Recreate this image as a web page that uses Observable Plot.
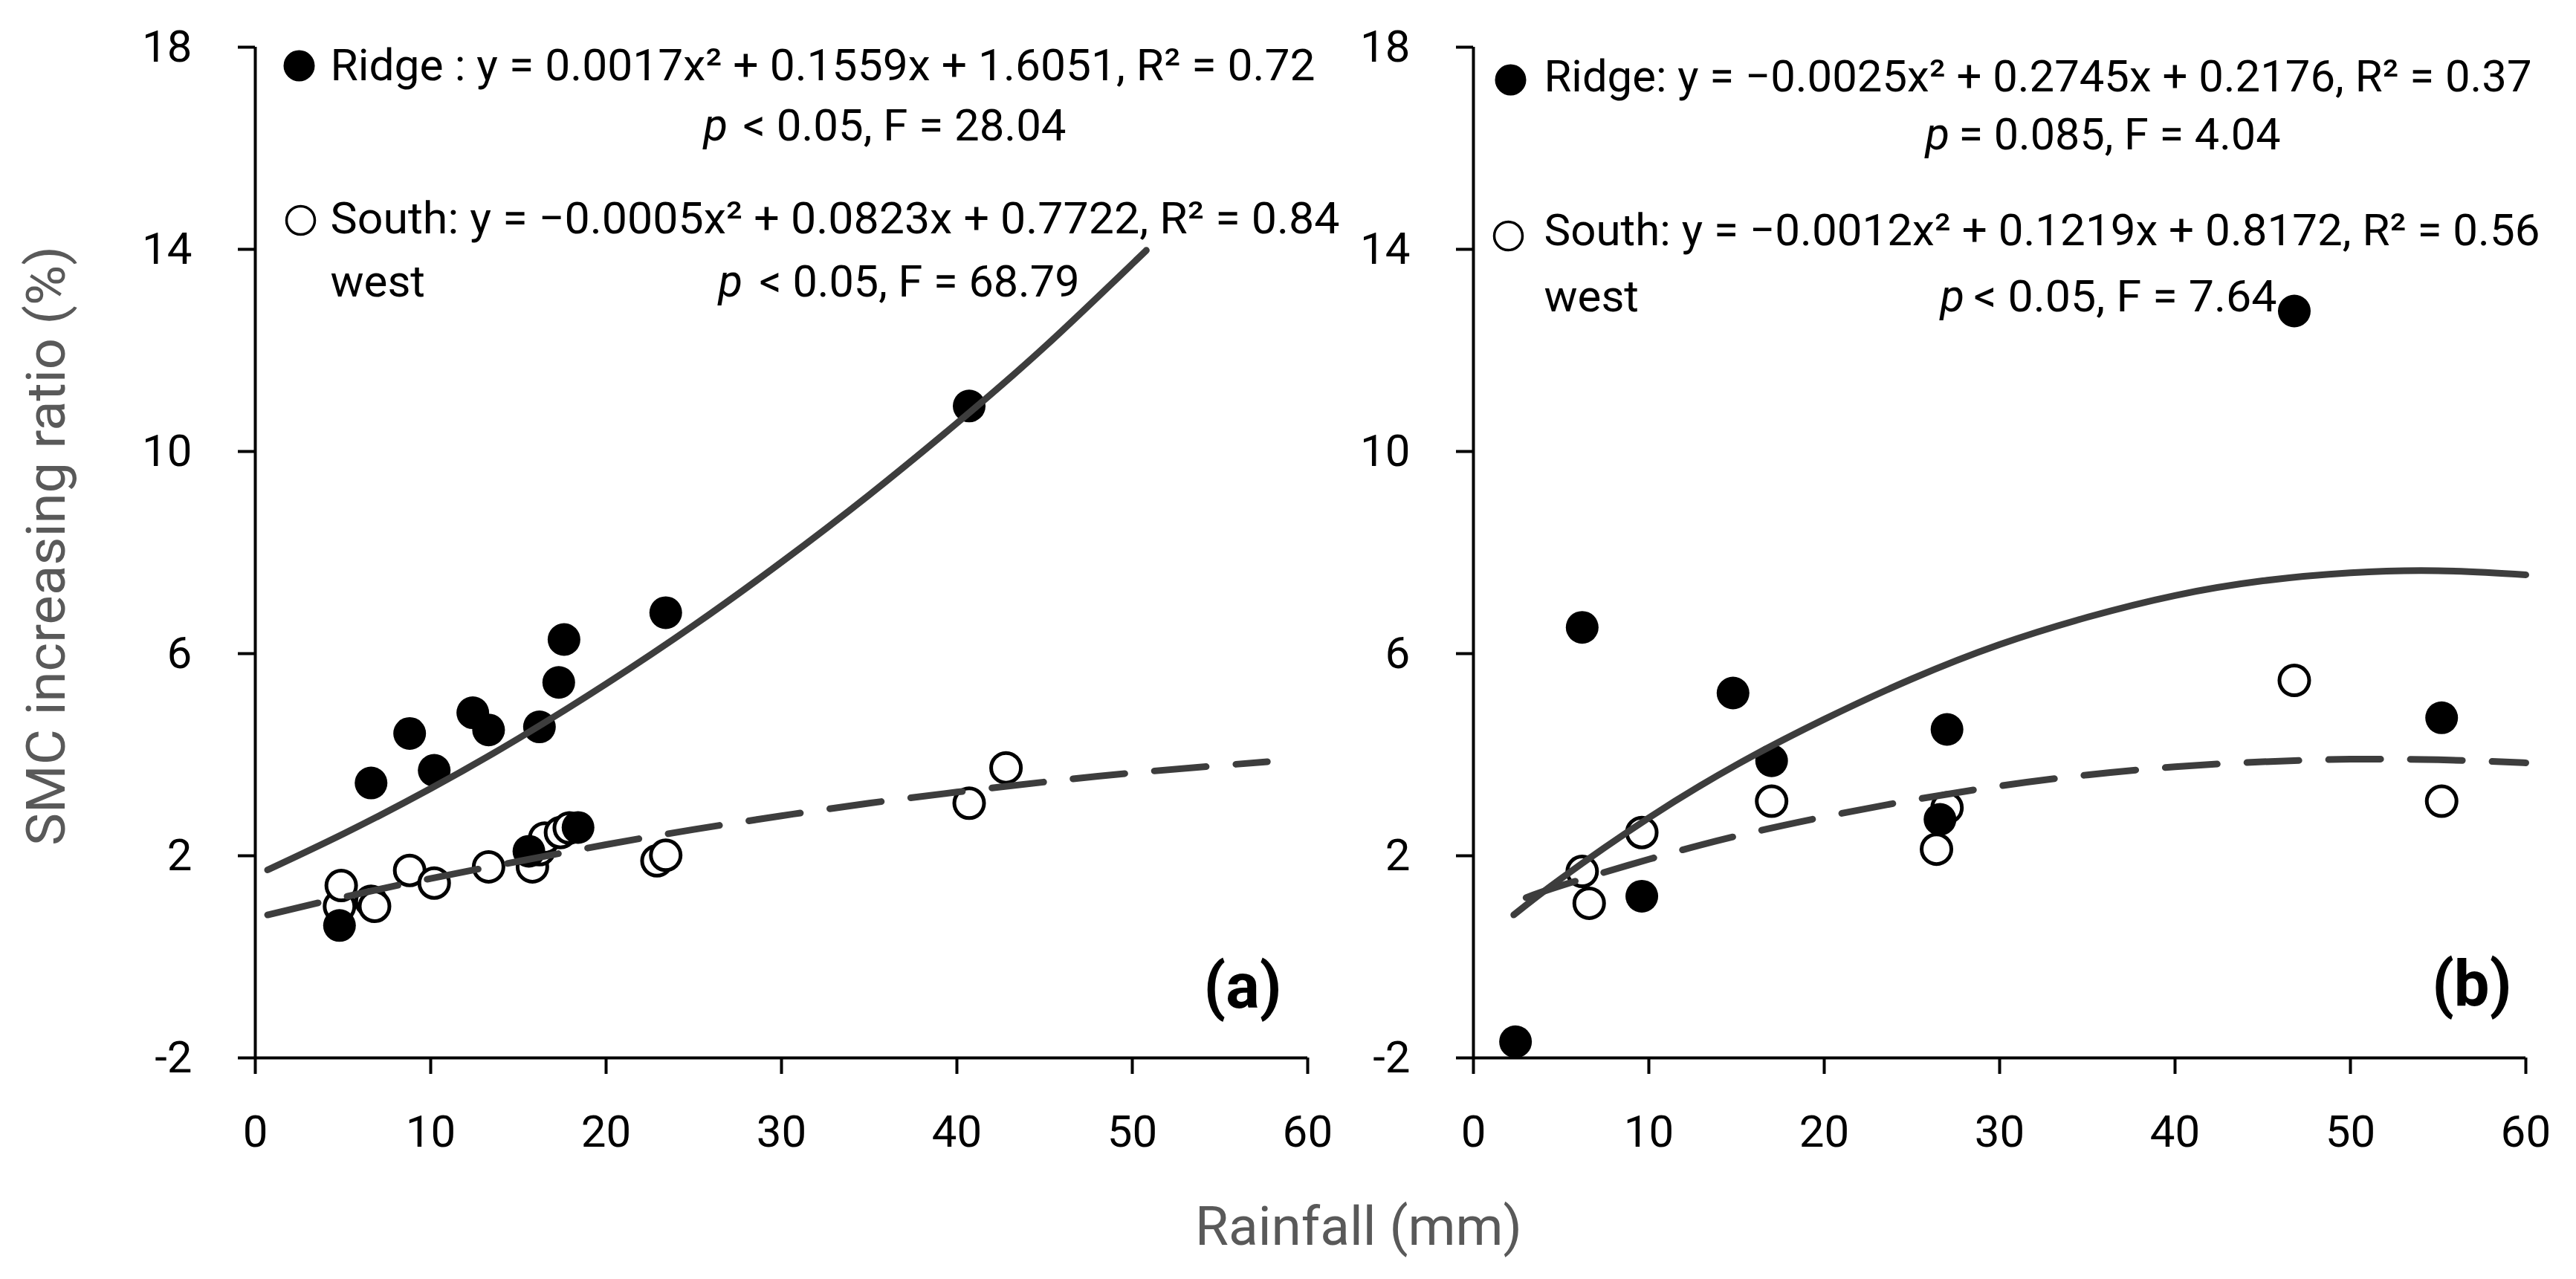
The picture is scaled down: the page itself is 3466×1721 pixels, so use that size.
<!DOCTYPE html>
<html>
<head>
<meta charset="utf-8">
<script src="https://cdn.jsdelivr.net/npm/d3@7"></script>
<script src="https://cdn.jsdelivr.net/npm/@observablehq/plot@0.6"></script>
<style>
  html, body { margin: 0; padding: 0; background: #fff; }
  #fig { position: relative; width: 3466px; height: 1721px; overflow: hidden; background: #fff; }
  #chartA, #chartB { position: absolute; top: 0; }
  #chartA { left: 0; }
  #chartB { left: 1815px; }
  #xlab {
    position: absolute; left: 1828px; top: 1614px; transform: translateX(-50%);
    font-family: Roboto, sans-serif; font-size: 73px; line-height: 1; color: #595959; white-space: nowrap;
  }
</style>
</head>
<body>
<div id="fig"><div id="chartA"></div><div id="chartB"></div><div id="xlab"></div></div>
<script>
const FONT = 'Roboto, "Liberation Sans", sans-serif';

const xTicks = [0, 10, 20, 30, 40, 50, 60];
const yTicks = [-2, 2, 6, 10, 14, 18];

// (a) observed points
const aRidgeX = [4.8, 6.6, 8.8, 10.2, 12.4, 13.3, 15.6, 16.2, 17.3, 17.6, 18.4, 23.4, 40.7];
const aRidgeY = [0.62, 3.44, 4.42, 3.69, 4.83, 4.49, 2.09, 4.55, 5.43, 6.28, 2.56, 6.81, 10.9];
const aSouthX = [4.8, 4.9, 6.6, 6.8, 8.8, 10.2, 13.3, 15.8, 16.2, 16.5, 17.4, 17.9, 22.9, 23.4, 40.7, 42.8];
const aSouthY = [1.0, 1.41, 1.1, 1.0, 1.71, 1.46, 1.78, 1.78, 2.12, 2.35, 2.46, 2.55, 1.9, 2.01, 3.04, 3.74];

// (a) trend curves
const aRidgeFitX = [0.7, 5, 10, 15, 20, 25, 30, 35, 40, 45, 50.8];
const aRidgeFitY = [1.72, 2.43, 3.33, 4.32, 5.4, 6.56, 7.81, 9.14, 10.56, 12.07, 13.98];
const aSouthFitX = [0.7, 5, 10, 15, 20, 25, 30, 35, 40, 45, 50, 57.7];
const aSouthFitY = [0.83, 1.18, 1.55, 1.89, 2.22, 2.52, 2.79, 3.04, 3.26, 3.46, 3.64, 3.86];

// (b) observed points
const bRidgeX = [2.4, 6.2, 9.6, 14.8, 17.0, 26.6, 27.0, 46.8, 55.2];
const bRidgeY = [-1.68, 6.52, 1.2, 5.22, 3.88, 2.72, 4.5, 12.78, 4.73];
const bSouthX = [6.2, 6.6, 9.6, 17.0, 26.4, 27.0, 46.8, 55.2];
const bSouthY = [1.69, 1.06, 2.46, 3.08, 2.13, 2.95, 5.47, 3.08];

// (b) trend curves
const bRidgeFitX = [2.3, 5, 10, 15, 20, 25, 30, 35, 40, 45, 50, 55, 60];
const bRidgeFitY = [0.83, 1.55, 2.75, 3.8, 4.7, 5.5, 6.18, 6.72, 7.15, 7.44, 7.6, 7.64, 7.56];
const bSouthFitX = [3, 5, 10, 15, 20, 25, 30, 35, 40, 45, 50, 55, 60];
const bSouthFitY = [1.17, 1.41, 1.93, 2.39, 2.77, 3.1, 3.38, 3.6, 3.76, 3.86, 3.91, 3.9, 3.84];

// texts
const aRidgeEq = "Ridge : y = 0.0017x² + 0.1559x + 1.6051, R² = 0.72";
const aRidgeStat = "< 0.05, F = 28.04";
const aSouthEq = "South: y = −0.0005x² + 0.0823x + 0.7722, R² = 0.84";
const aSouthStat = "< 0.05, F = 68.79";
const bRidgeEq = "Ridge: y = −0.0025x² + 0.2745x + 0.2176, R² = 0.37";
const bRidgeStat = "= 0.085, F = 4.04";
const bSouthEq = "South: y = −0.0012x² + 0.1219x + 0.8172, R² = 0.56";
const bSouthStat = "< 0.05, F = 7.64";
const westWord = "west";
const pWord = "p";
const yLabel = "SMC increasing ratio (%)";
const xLabel = "Rainfall (mm)";

const pts = (xs, ys) => xs.map((x, i) => ({x, y: ys[i]}));

// widths measured on the reference
const textWidths = new Map([
  [aRidgeEq, 1325], [aRidgeStat, 435], [aSouthEq, 1358], [aSouthStat, 431],
  [bRidgeEq, 1329], [bRidgeStat, 433], [bSouthEq, 1340], [bSouthStat, 408],
  [yLabel, 807]
]);

function note(text, dx, dy, extra = {}) {
  return Plot.text([text], {
    text: d => d, frameAnchor: "top-left", textAnchor: "start", lineAnchor: "bottom",
    dx, dy, fontSize: 60, fontFamily: FONT, fill: "black", ...extra
  });
}

function panel(cfg) {
  const lay = cfg.lay;
  const marks = [
    Plot.ruleX([xTicks[0]], {strokeWidth: 4, stroke: "black"}),
    Plot.ruleY([yTicks[0]], {strokeWidth: 4, stroke: "black"}),
    Plot.axisY({ticks: yTicks, tickSize: 23, tickPadding: 62, fontSize: 60, fontFamily: FONT,
      strokeWidth: 4, tickFormat: d => String(d), label: null}),
    Plot.axisX({ticks: xTicks, tickSize: 22, tickPadding: 55, fontSize: 60, fontFamily: FONT,
      strokeWidth: 4, tickFormat: d => String(d), label: null}),
    Plot.dot(cfg.south, {x: "x", y: "y", r: 20, fill: "white", stroke: "black", strokeWidth: 5}),
    Plot.dot(cfg.ridge, {x: "x", y: "y", r: 22, fill: "black"}),
    Plot.line(cfg.southFit, {x: "x", y: "y", curve: "natural", stroke: "#3d3d3d", strokeWidth: 9,
      strokeDasharray: "70,40", strokeLinecap: "round"}),
    Plot.line(cfg.ridgeFit, {x: "x", y: "y", curve: "natural", stroke: "#3d3d3d", strokeWidth: 9}),
    // legend / equations
    Plot.dot([0], {frameAnchor: "top-left", dx: lay.rm[0], dy: lay.rm[1], r: 21, fill: "black"}),
    note(cfg.ridgeEq, lay.re[0], lay.re[1]),
    note(pWord, lay.rp[0], lay.rp[1], {fontStyle: "italic"}),
    note(cfg.ridgeStat, lay.rs[0], lay.rs[1]),
    Plot.dot([0], {frameAnchor: "top-left", dx: lay.sm[0], dy: lay.sm[1], r: 19, fill: "white", stroke: "black", strokeWidth: 3.5}),
    note(cfg.southEq, lay.se[0], lay.se[1]),
    note(westWord, lay.w[0], lay.w[1]),
    note(pWord, lay.sp[0], lay.sp[1], {fontStyle: "italic"}),
    note(cfg.southStat, lay.ss[0], lay.ss[1]),
    Plot.text([cfg.tag], {text: d => d, frameAnchor: "bottom-right", textAnchor: "end", lineAnchor: "bottom",
      dx: lay.tag[0], dy: lay.tag[1], fontSize: 85, fontWeight: "bold", fontFamily: FONT, fill: "black"})
  ];
  if (cfg.extra) marks.push(...cfg.extra);
  const svg = Plot.plot({
    width: lay.width,
    height: 1721,
    marginLeft: lay.ml,
    marginRight: lay.mr,
    marginTop: 63,
    marginBottom: 298,
    x: {domain: [0, 60]},
    y: {domain: [-2, 18]},
    style: {background: "transparent", overflow: "visible", color: "black", fontFamily: FONT},
    marks
  });
  d3.select(svg).selectAll("text").each(function () {
    const w = textWidths.get(this.textContent);
    if (w) {
      this.setAttribute("textLength", w);
      this.setAttribute("lengthAdjust", "spacingAndGlyphs");
    }
  });
  return svg;
}

const plotA = panel({
  ridge: pts(aRidgeX, aRidgeY), south: pts(aSouthX, aSouthY),
  ridgeFit: pts(aRidgeFitX, aRidgeFitY), southFit: pts(aSouthFitX, aSouthFitY),
  ridgeEq: aRidgeEq, ridgeStat: aRidgeStat, southEq: aSouthEq, southStat: aSouthStat, tag: "(a)",
  lay: {width: 1815, ml: 343, mr: 56,
    rm: [59, 25], re: [101, 44], rp: [603, 125], rs: [656, 125],
    sm: [61, 233], se: [101, 250], w: [101, 335], sp: [623, 335], ss: [678, 335], tag: [-35, -68]},
  extra: [
    Plot.text([yLabel], {text: d => d, frameAnchor: "left", rotate: -90, lineAnchor: "middle", textAnchor: "middle",
      dx: -280, dy: -9, fontSize: 72, fontFamily: FONT, fill: "#595959"})
  ]
});

const plotB = panel({
  ridge: pts(bRidgeX, bRidgeY), south: pts(bSouthX, bSouthY),
  ridgeFit: pts(bRidgeFitX, bRidgeFitY), southFit: pts(bSouthFitX, bSouthFitY),
  ridgeEq: bRidgeEq, ridgeStat: bRidgeStat, southEq: bSouthEq, southStat: bSouthStat, tag: "(b)",
  lay: {width: 1651, ml: 167, mr: 68,
    rm: [50, 44], re: [95, 59], rp: [608, 137], rs: [653, 137],
    sm: [47, 254], se: [95, 266], w: [95, 355], sp: [628, 355], ss: [673, 355], tag: [-19, -71]}
});

d3.select('#chartA').append(() => plotA);
d3.select('#chartB').append(() => plotB);
d3.select('#xlab').text(xLabel);
</script>
</body>
</html>
